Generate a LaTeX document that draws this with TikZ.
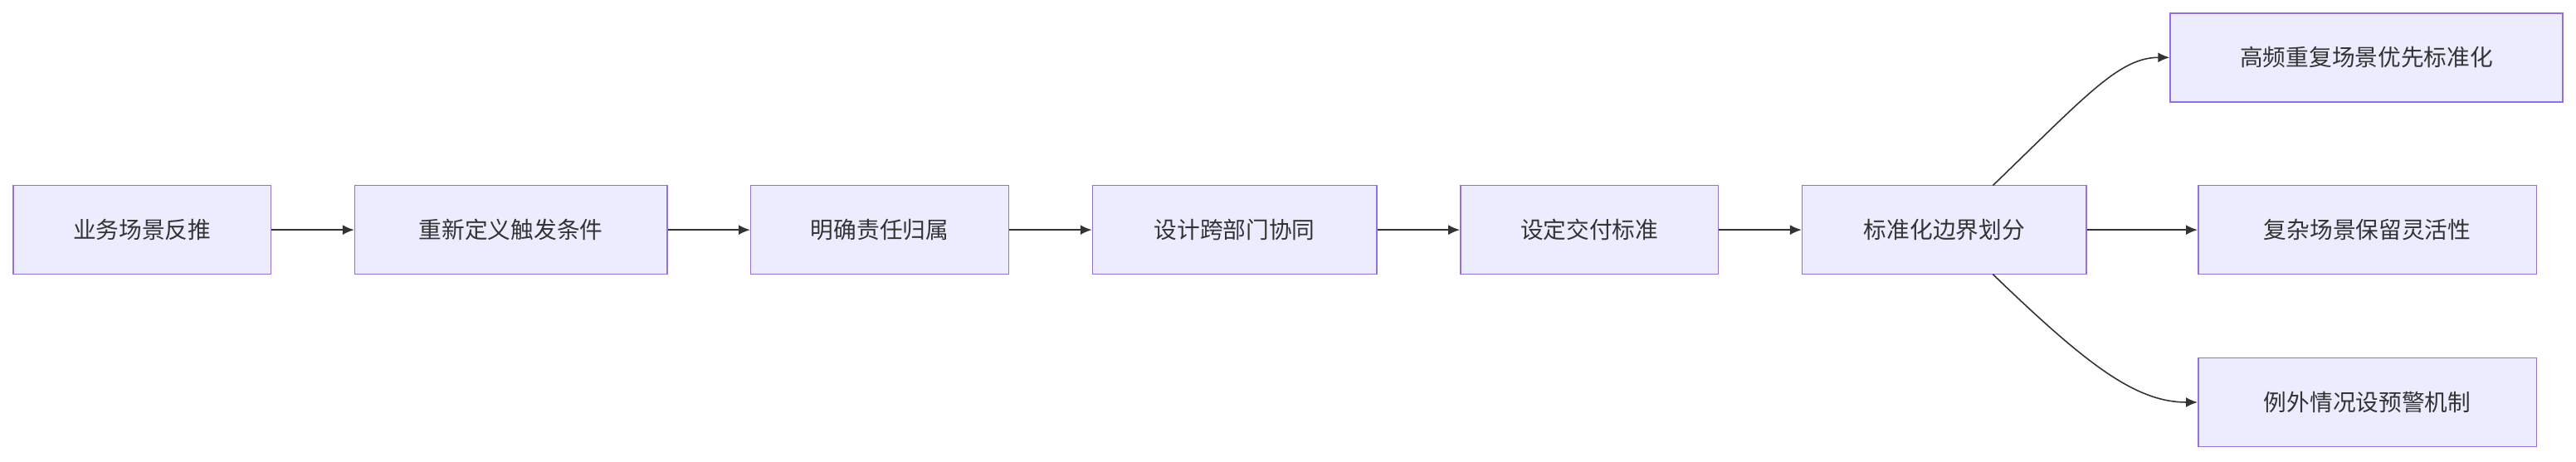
\documentclass[tikz,border=0pt]{standalone}
\usepackage{fontspec}
\setmainfont{Noto Sans CJK SC}
\usetikzlibrary{arrows.meta}
\definecolor{bfill}{HTML}{ECECFF}
\definecolor{bdraw}{HTML}{9370DB}
\definecolor{ln}{HTML}{333333}
\begin{document}
\begin{tikzpicture}[x=1pt,y=-1pt,
  box/.style={draw=bdraw,fill=bfill,line width=0.8pt,inner sep=0pt,font=\fontsize{14}{16}\selectfont,text=ln},
  arr/.style={draw=ln,line width=0.8pt,-{Latex[length=7pt,width=6pt]}}]
\useasboundingbox (0,0) rectangle (1568,281);
\newcommand\bx[6]{\node[box,minimum width=#3-#2,minimum height=#5-#4] (#1) at ({(#2+#3)/2},{(#4+#5)/2}) {#6};}
\bx{a}{8}{165}{113}{167}{业务场景反推}
\bx{b}{216}{406}{113}{167}{重新定义触发条件}
\bx{c}{457}{614}{113}{167}{明确责任归属}
\bx{d}{665}{838}{113}{167}{设计跨部门协同}
\bx{e}{889}{1046}{113}{167}{设定交付标准}
\bx{f}{1097}{1270}{113}{167}{标准化边界划分}
\bx{g}{1321}{1560}{8}{62}{高频重复场景优先标准化}
\bx{h}{1338}{1544}{113}{167}{复杂场景保留灵活性}
\bx{i}{1338}{1544}{218}{272}{例外情况设预警机制}
\draw[arr] (a) -- (b);
\draw[arr] (b) -- (c);
\draw[arr] (c) -- (d);
\draw[arr] (d) -- (e);
\draw[arr] (e) -- (f);
\draw[arr] (f) -- (h);
\draw[arr] (1213,113) .. controls (1270,58) and (1290,35) .. (g.west);
\draw[arr] (1213,167) .. controls (1270,222) and (1300,245) .. (i.west);
\end{tikzpicture}
\end{document}
